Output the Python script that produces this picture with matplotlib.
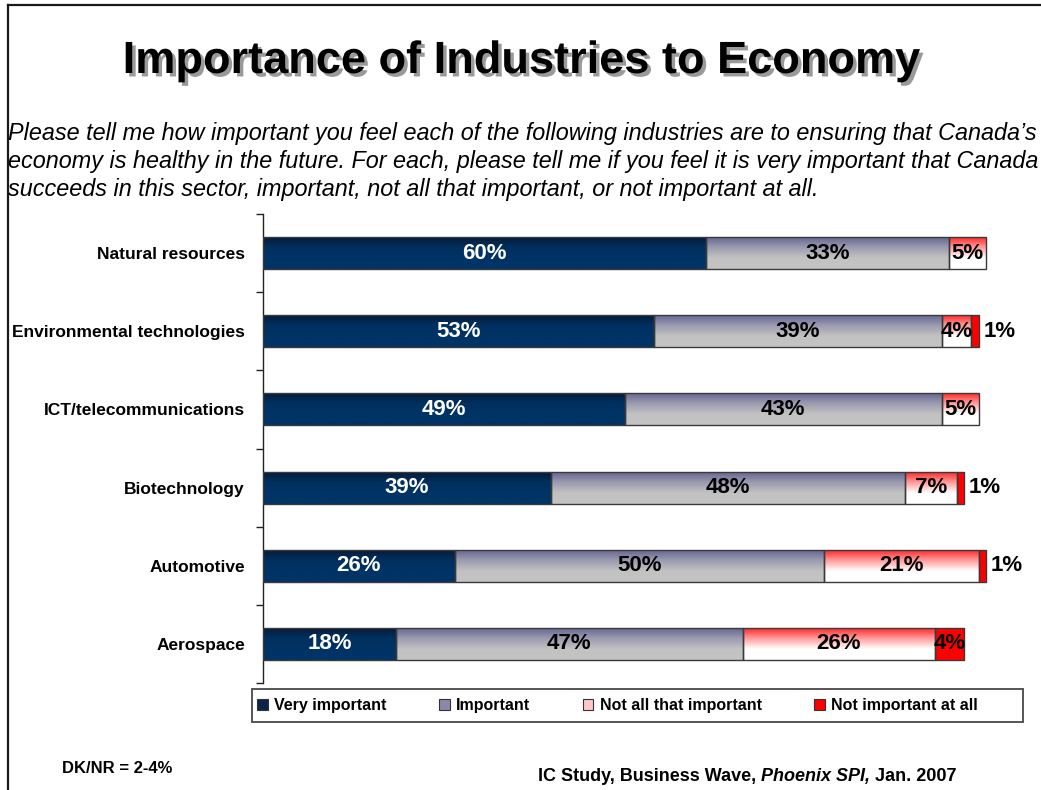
import numpy as np
import matplotlib
matplotlib.use('Agg')
import matplotlib.pyplot as plt
from matplotlib.colors import LinearSegmentedColormap
from matplotlib.patches import Patch, Rectangle
from matplotlib.lines import Line2D
import matplotlib.patheffects as pe

plt.rcParams['font.family'] = ['Liberation Sans', 'DejaVu Sans']

categories = ['Natural resources', 'Environmental technologies', 'ICT/telecommunications',
              'Biotechnology', 'Automotive', 'Aerospace']
very_important = [60, 53, 49, 39, 26, 18]
important = [33, 39, 43, 48, 50, 47]
not_all_that = [5, 4, 5, 7, 21, 26]
not_at_all = [0, 1, 0, 1, 1, 4]
series_names = ['Very important', 'Important', 'Not all that important', 'Not important at all']

# top -> bottom gradient stops for each series
gradients = [
    ['#061a33', '#00305f', '#003366', '#003366'],
    ['#62628f', '#9a9ab0', '#c2c2c2', '#c4c4c4'],
    ['#ff1f1f', '#ff9a9a', '#ffffff', '#ffffff'],
    ['#ff0000', '#ff0000'],
]
legend_colors = ['#0b2448', '#8a8aa8', '#ffc8c8', '#ff0000']
label_colors = ['white', 'black', 'black', 'black']

W, H = 1041, 790
fig = plt.figure(figsize=(W / 100, H / 100), dpi=100)
ax = fig.add_axes([263 / W, 1 - 683 / H, 738 / W, 469 / H])

ypos = np.arange(len(categories))[::-1]
bar_h = 0.41
series = [very_important, important, not_all_that, not_at_all]
left = np.zeros(len(categories))

for k, vals in enumerate(series):
    vals = np.array(vals, dtype=float)
    bars = ax.barh(ypos, vals, left=left, height=bar_h, facecolor='none',
                   edgecolor='#3a3a3a', linewidth=1, zorder=3)
    cmap = LinearSegmentedColormap.from_list(f'g{k}', gradients[k])
    grad = np.linspace(0, 1, 64).reshape(-1, 1)
    for b, v in zip(bars, vals):
        if v <= 0:
            b.set_visible(False)
            continue
        x0, y0 = b.get_x(), b.get_y()
        im = ax.imshow(grad, cmap=cmap, extent=[x0, x0 + b.get_width(), y0, y0 + b.get_height()],
                       origin='upper', aspect='auto', zorder=2, interpolation='bilinear')
        im.set_clip_path(b)
    for y, l, v in zip(ypos, left, vals):
        if v <= 0:
            continue
        if v >= 3:
            ax.text(l + v / 2, y, f'{int(v)}%', ha='center', va='center', fontsize=16,
                    fontweight='bold', color=label_colors[k], zorder=4)
        else:
            ax.text(l + v + 0.6, y, f'{int(v)}%', ha='left', va='center', fontsize=16,
                    fontweight='bold', color='black', zorder=4)
    left = left + vals

ax.set_xlim(0, 100)
ax.set_ylim(-0.5, len(categories) - 0.5)

for s in ['top', 'right', 'bottom']:
    ax.spines[s].set_visible(False)
ax.spines['left'].set_color('#222222')
ax.spines['left'].set_linewidth(1)
ax.set_xticks([])
ax.set_yticks(np.arange(-0.5, len(categories), 1.0))
ax.set_yticklabels([])
ax.tick_params(axis='y', which='major', length=5, width=1, color='#222222', direction='out')
ax.set_yticks(ypos, minor=True)
ax.set_yticklabels(categories, minor=True, fontsize=12.5, fontweight='bold')
ax.tick_params(axis='y', which='minor', length=0, pad=13)

# title with drop shadow
fig.text(0.5, 1 - 73 / H, 'Importance of Industries to Economy', ha='center', va='baseline',
         fontsize=32.5, fontweight='bold',
         path_effects=[pe.withSimplePatchShadow(offset=(2.5, -2.5), shadow_rgbFace='#9a9a9a', alpha=1)])

subtitle_lines = [
    "Please tell me how important you feel each of the following industries are to ensuring that Canada\u2019s",
    "economy is healthy in the future. For each, please tell me if you feel it is very important that Canada",
    "succeeds in this sector, important, not all that important, or not important at all.",
]
for i, line in enumerate(subtitle_lines):
    fig.text(8 / W, 1 - (140 + 28 * i) / H, line, ha='left', va='baseline', fontsize=16.8,
             style='italic')

# legend inside its own box
fig.add_artist(Rectangle((252 / W, 1 - 722 / H), 771 / W, 33 / H,
                         transform=fig.transFigure, facecolor='white', edgecolor='#555555',
                         linewidth=1.4))
handles = [Patch(facecolor=c, edgecolor='#333333', linewidth=0.8) for c in legend_colors]
fig.legend(handles, series_names, loc='center left', bbox_to_anchor=(243 / W, 1 - 705.5 / H),
           ncol=4, frameon=False, handlelength=0.65, handleheight=0.65, handletextpad=0.4,
           columnspacing=3.3, prop={'size': 11.5, 'weight': 'bold'})

fig.text(62 / W, 1 - 773 / H, 'DK/NR = 2-4%', ha='left', va='baseline',
         fontsize=12, fontweight='bold')

src_y = 1 - 781 / H
t1 = fig.text(538 / W, src_y, 'IC Study, Business Wave,', ha='left', va='baseline',
              fontsize=13, fontweight='bold')
t2 = ax.annotate('Phoenix SPI,', xy=(1, src_y), xycoords=(t1, 'figure fraction'),
                 xytext=(3.6, 0), textcoords='offset points', ha='left', va='baseline',
                 fontsize=13, fontweight='bold', style='italic', annotation_clip=False)
ax.annotate('Jan. 2007', xy=(1, src_y), xycoords=(t2, 'figure fraction'),
            xytext=(3.6, 0), textcoords='offset points', ha='left', va='baseline',
            fontsize=13, fontweight='bold', annotation_clip=False)

# slide border
fig.add_artist(Line2D([8 / W, 1], [1 - 5 / H, 1 - 5 / H], transform=fig.transFigure,
                      color='#1a1a1a', linewidth=1.6))
fig.add_artist(Line2D([8 / W, 8 / W], [0, 1 - 5 / H], transform=fig.transFigure,
                      color='#1a1a1a', linewidth=1.6))

fig.savefig('out.png', dpi=100)
